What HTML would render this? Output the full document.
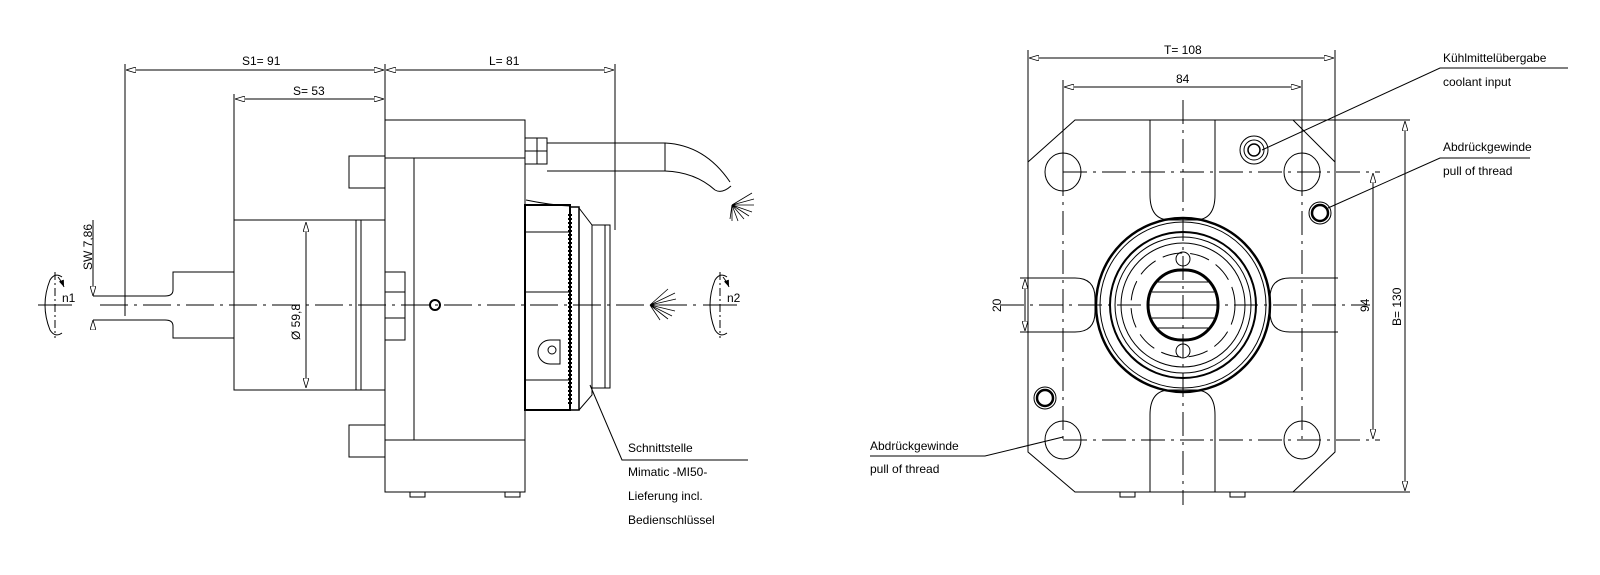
<!DOCTYPE html>
<html><head><meta charset="utf-8"><style>
html,body{margin:0;padding:0;background:#fff}
svg{display:block}
text{font-family:"Liberation Sans",sans-serif;font-size:12px;fill:#000}
</style></head><body>
<svg width="1600" height="575" viewBox="0 0 1600 575" xmlns="http://www.w3.org/2000/svg">
<defs>
<marker id="a" viewBox="0 0 10 6" refX="10" refY="3" markerWidth="10" markerHeight="6" orient="auto-start-reverse" markerUnits="userSpaceOnUse"><path d="M0,0 L10,3 L0,6 Z" fill="#fff" stroke="#000" stroke-width="0.8"/></marker>
<marker id="b" viewBox="0 0 8 6" refX="8" refY="3" markerWidth="7" markerHeight="6" orient="auto" markerUnits="userSpaceOnUse"><path d="M0,0 L8,3 L0,6 Z" fill="#000"/></marker>
</defs>
<g fill="none" stroke="#000" stroke-width="1">
<line x1="125" y1="64" x2="125" y2="316"/>
<line x1="234" y1="94" x2="234" y2="220"/>
<line x1="385" y1="64" x2="385" y2="120"/>
<line x1="615" y1="64" x2="615" y2="230"/>
<line x1="126" y1="70" x2="384" y2="70" marker-start="url(#a)" marker-end="url(#a)"/>
<line x1="386" y1="70" x2="614" y2="70" marker-start="url(#a)" marker-end="url(#a)"/>
<line x1="235" y1="99" x2="384" y2="99" marker-start="url(#a)" marker-end="url(#a)"/>
<rect x="385" y="120" width="140" height="372"/>
<rect x="385" y="158" width="29" height="282"/>
<line x1="414" y1="158" x2="525" y2="158"/>
<line x1="414" y1="440" x2="525" y2="440"/>
<rect x="349" y="156" width="36" height="32"/>
<rect x="349" y="425" width="36" height="32"/>
<path d="M410,492 v5 h15 v-5 M505,492 v5 h15 v-5"/>
<rect x="234" y="220" width="122" height="170"/>
<rect x="356" y="220" width="5" height="170"/>
<rect x="361" y="220" width="24" height="170"/>
<rect x="385" y="272" width="20" height="68"/>
<line x1="385" y1="292" x2="405" y2="292"/><line x1="385" y1="318" x2="405" y2="318"/>
<path d="M234,272 H173 V290 Q173,296 165,296 H93 M234,338 H173 V326 Q173,320 165,320 H93"/>
<line x1="306" y1="222" x2="306" y2="388" marker-start="url(#a)" marker-end="url(#a)"/>
<line x1="93" y1="220" x2="93" y2="296" marker-end="url(#a)"/>
<line x1="93" y1="320" x2="93" y2="330" marker-start="url(#a)"/>
<circle cx="435" cy="305" r="5" stroke-width="2"/>
<rect x="525" y="138" width="12" height="26"/><rect x="537" y="138" width="10" height="26"/>
<line x1="525" y1="151" x2="547" y2="151"/>
<path d="M547,143 H665 Q705,145 730,182 M547,171 H665 Q695,172 715,190"/>
<line x1="665" y1="143" x2="665" y2="171"/>
<path d="M715,190 Q722,194 731,186"/>
<rect x="525" y="205" width="45" height="205" stroke-width="2"/>
<line x1="525" y1="232" x2="570" y2="232"/><line x1="525" y1="292" x2="570" y2="292"/>
<line x1="525" y1="380" x2="570" y2="380"/>
<path d="M526,200 Q550,205 570,206"/>
<rect x="570" y="207" width="9" height="203" stroke-width="1.5"/>
<path d="M570,214 v190" stroke-dasharray="2,2" stroke-width="4"/>
<path d="M579,208 L592,225 V395 L579,410"/>
<path d="M592,225 H610 V388 H592"/><line x1="605" y1="225" x2="605" y2="388"/>
<path d="M560,340 h-10 a12,12 0 0 0 0,24 h10 z"/><circle cx="552" cy="350" r="4"/>
<line x1="100" y1="305" x2="700" y2="305" stroke-dasharray="28,6,3,6"/>
<path d="M62,277 Q55,272 50,280 Q40,305 50,330 Q55,338 62,333"/>
<path d="M58,277 Q62,282 64,287" marker-end="url(#b)"/>
<line x1="55" y1="272" x2="55" y2="338" stroke-dasharray="8,3,2,3"/>
<line x1="38" y1="305" x2="72" y2="305"/>
<path d="M727,277 Q720,272 715,280 Q705,305 715,330 Q720,338 727,333"/>
<path d="M723,277 Q727,282 729,287" marker-end="url(#b)"/>
<line x1="720" y1="272" x2="720" y2="338" stroke-dasharray="8,3,2,3"/>
<line x1="703" y1="305" x2="737" y2="305"/>
<g stroke-width="0.8">
<path d="M732,205 l20,-12 M732,205 l22,-6 M732,205 l22,0 M732,205 l20,7 M732,205 l17,11 M732,205 l12,14 M732,205 l6,16 M732,205 l0,16 M732,205 l-2,14"/>
<path d="M650,305 l25,-12 M650,305 l26,-6 M650,305 l26,0 M650,305 l25,6 M650,305 l22,11 M650,305 l18,14 M650,305 l10,15 M650,305 l18,-16"/>
</g>
<path d="M590,385 L622,460 H748"/>
<line x1="1028" y1="50" x2="1028" y2="162"/><line x1="1335" y1="50" x2="1335" y2="162"/>
<line x1="1063" y1="80" x2="1063" y2="172"/><line x1="1302" y1="80" x2="1302" y2="172"/>
<line x1="1029" y1="58" x2="1334" y2="58" marker-start="url(#a)" marker-end="url(#a)"/>
<line x1="1064" y1="87" x2="1301" y2="87" marker-start="url(#a)" marker-end="url(#a)"/>
<path d="M1075,120 H1293 L1335,162 V452 L1293,492 H1075 L1028,452 V162 Z"/>
<line x1="1293" y1="120" x2="1410" y2="120"/><line x1="1293" y1="492" x2="1410" y2="492"/>
<line x1="1405" y1="121" x2="1405" y2="491" marker-start="url(#a)" marker-end="url(#a)"/>
<line x1="1373" y1="173" x2="1373" y2="439" marker-start="url(#a)" marker-end="url(#a)"/>
<path d="M1150,120 V195 Q1150,220 1170,220 H1195 Q1215,220 1215,195 V120"/>
<path d="M1150,492 V415 Q1150,390 1170,390 H1195 Q1215,390 1215,415 V492"/>
<path d="M1020,278 H1075 Q1095,278 1095,298 V312 Q1095,332 1075,332 H1020"/>
<path d="M1338,278 H1290 Q1270,278 1270,298 V312 Q1270,332 1290,332 H1338"/>
<line x1="1025" y1="279" x2="1025" y2="331" marker-start="url(#a)" marker-end="url(#a)"/>
<ellipse cx="1063" cy="172" rx="18" ry="19"/><ellipse cx="1302" cy="172" rx="18" ry="19"/>
<ellipse cx="1063" cy="440" rx="18" ry="19"/><ellipse cx="1302" cy="440" rx="18" ry="19"/>
<circle cx="1183" cy="305" r="87" stroke-width="2.5"/>
<circle cx="1183" cy="305" r="83"/>
<circle cx="1183" cy="305" r="73" stroke-width="2"/>
<circle cx="1183" cy="305" r="68"/>
<circle cx="1183" cy="305" r="62"/>
<circle cx="1183" cy="305" r="52" stroke-dasharray="20,8"/>
<rect x="1148" y="270" width="70" height="70" rx="33" ry="35" stroke-width="3"/>
<path d="M1152,292 H1214 M1150,305 H1216 M1152,318 H1214 M1158,282 H1208 M1158,328 H1208"/>
<circle cx="1183" cy="259" r="7"/><circle cx="1183" cy="351" r="7"/>
<circle cx="1254" cy="150" r="14"/><circle cx="1254" cy="150" r="10"/><circle cx="1254" cy="150" r="6" stroke-width="1.5"/>
<circle cx="1320" cy="213" r="11" stroke-width="1"/><circle cx="1320" cy="213" r="8" stroke-width="2.5"/>
<circle cx="1045" cy="398" r="11"/><circle cx="1045" cy="398" r="8" stroke-width="2.5"/>
<path d="M1120,492 v5 h15 v-5 M1230,492 v5 h15 v-5"/>
<g stroke-dasharray="24,6,3,6">
<line x1="1063" y1="172" x2="1380" y2="172"/><line x1="1063" y1="440" x2="1380" y2="440"/>
<line x1="1063" y1="172" x2="1063" y2="440"/><line x1="1302" y1="172" x2="1302" y2="440"/>
<line x1="1183" y1="100" x2="1183" y2="505"/><line x1="1000" y1="305" x2="1370" y2="305"/>
</g>
<path d="M1568,68 H1440 L1262,150"/>
<path d="M1530,158 H1440 L1328,208"/>
<path d="M870,456 H985 L1063,437"/>
</g>
<g>
<text x="242" y="65">S1=  91</text>
<text x="489" y="65">L= 81</text>
<text x="293" y="95">S= 53</text>
<text transform="translate(300,340) rotate(-90)">Ø 59,8</text>
<text transform="translate(92,270) rotate(-90)">SW 7,86</text>
<text x="62" y="302">n1</text>
<text x="727" y="302">n2</text>
<text x="628" y="452">Schnittstelle</text>
<text x="628" y="476">Mimatic -MI50-</text>
<text x="628" y="500">Lieferung incl.</text>
<text x="628" y="524">Bedienschlüssel</text>
<text x="1164" y="54">T=  108</text>
<text x="1176" y="83">84</text>
<text transform="translate(1001,312) rotate(-90)">20</text>
<text transform="translate(1369,312) rotate(-90)">94</text>
<text transform="translate(1401,326) rotate(-90)">B=  130</text>
<text x="1443" y="62">Kühlmittelübergabe</text>
<text x="1443" y="86">coolant input</text>
<text x="1443" y="151">Abdrückgewinde</text>
<text x="1443" y="175">pull of thread</text>
<text x="870" y="450">Abdrückgewinde</text>
<text x="870" y="473">pull of thread</text>
</g>
</svg>
</body></html>
